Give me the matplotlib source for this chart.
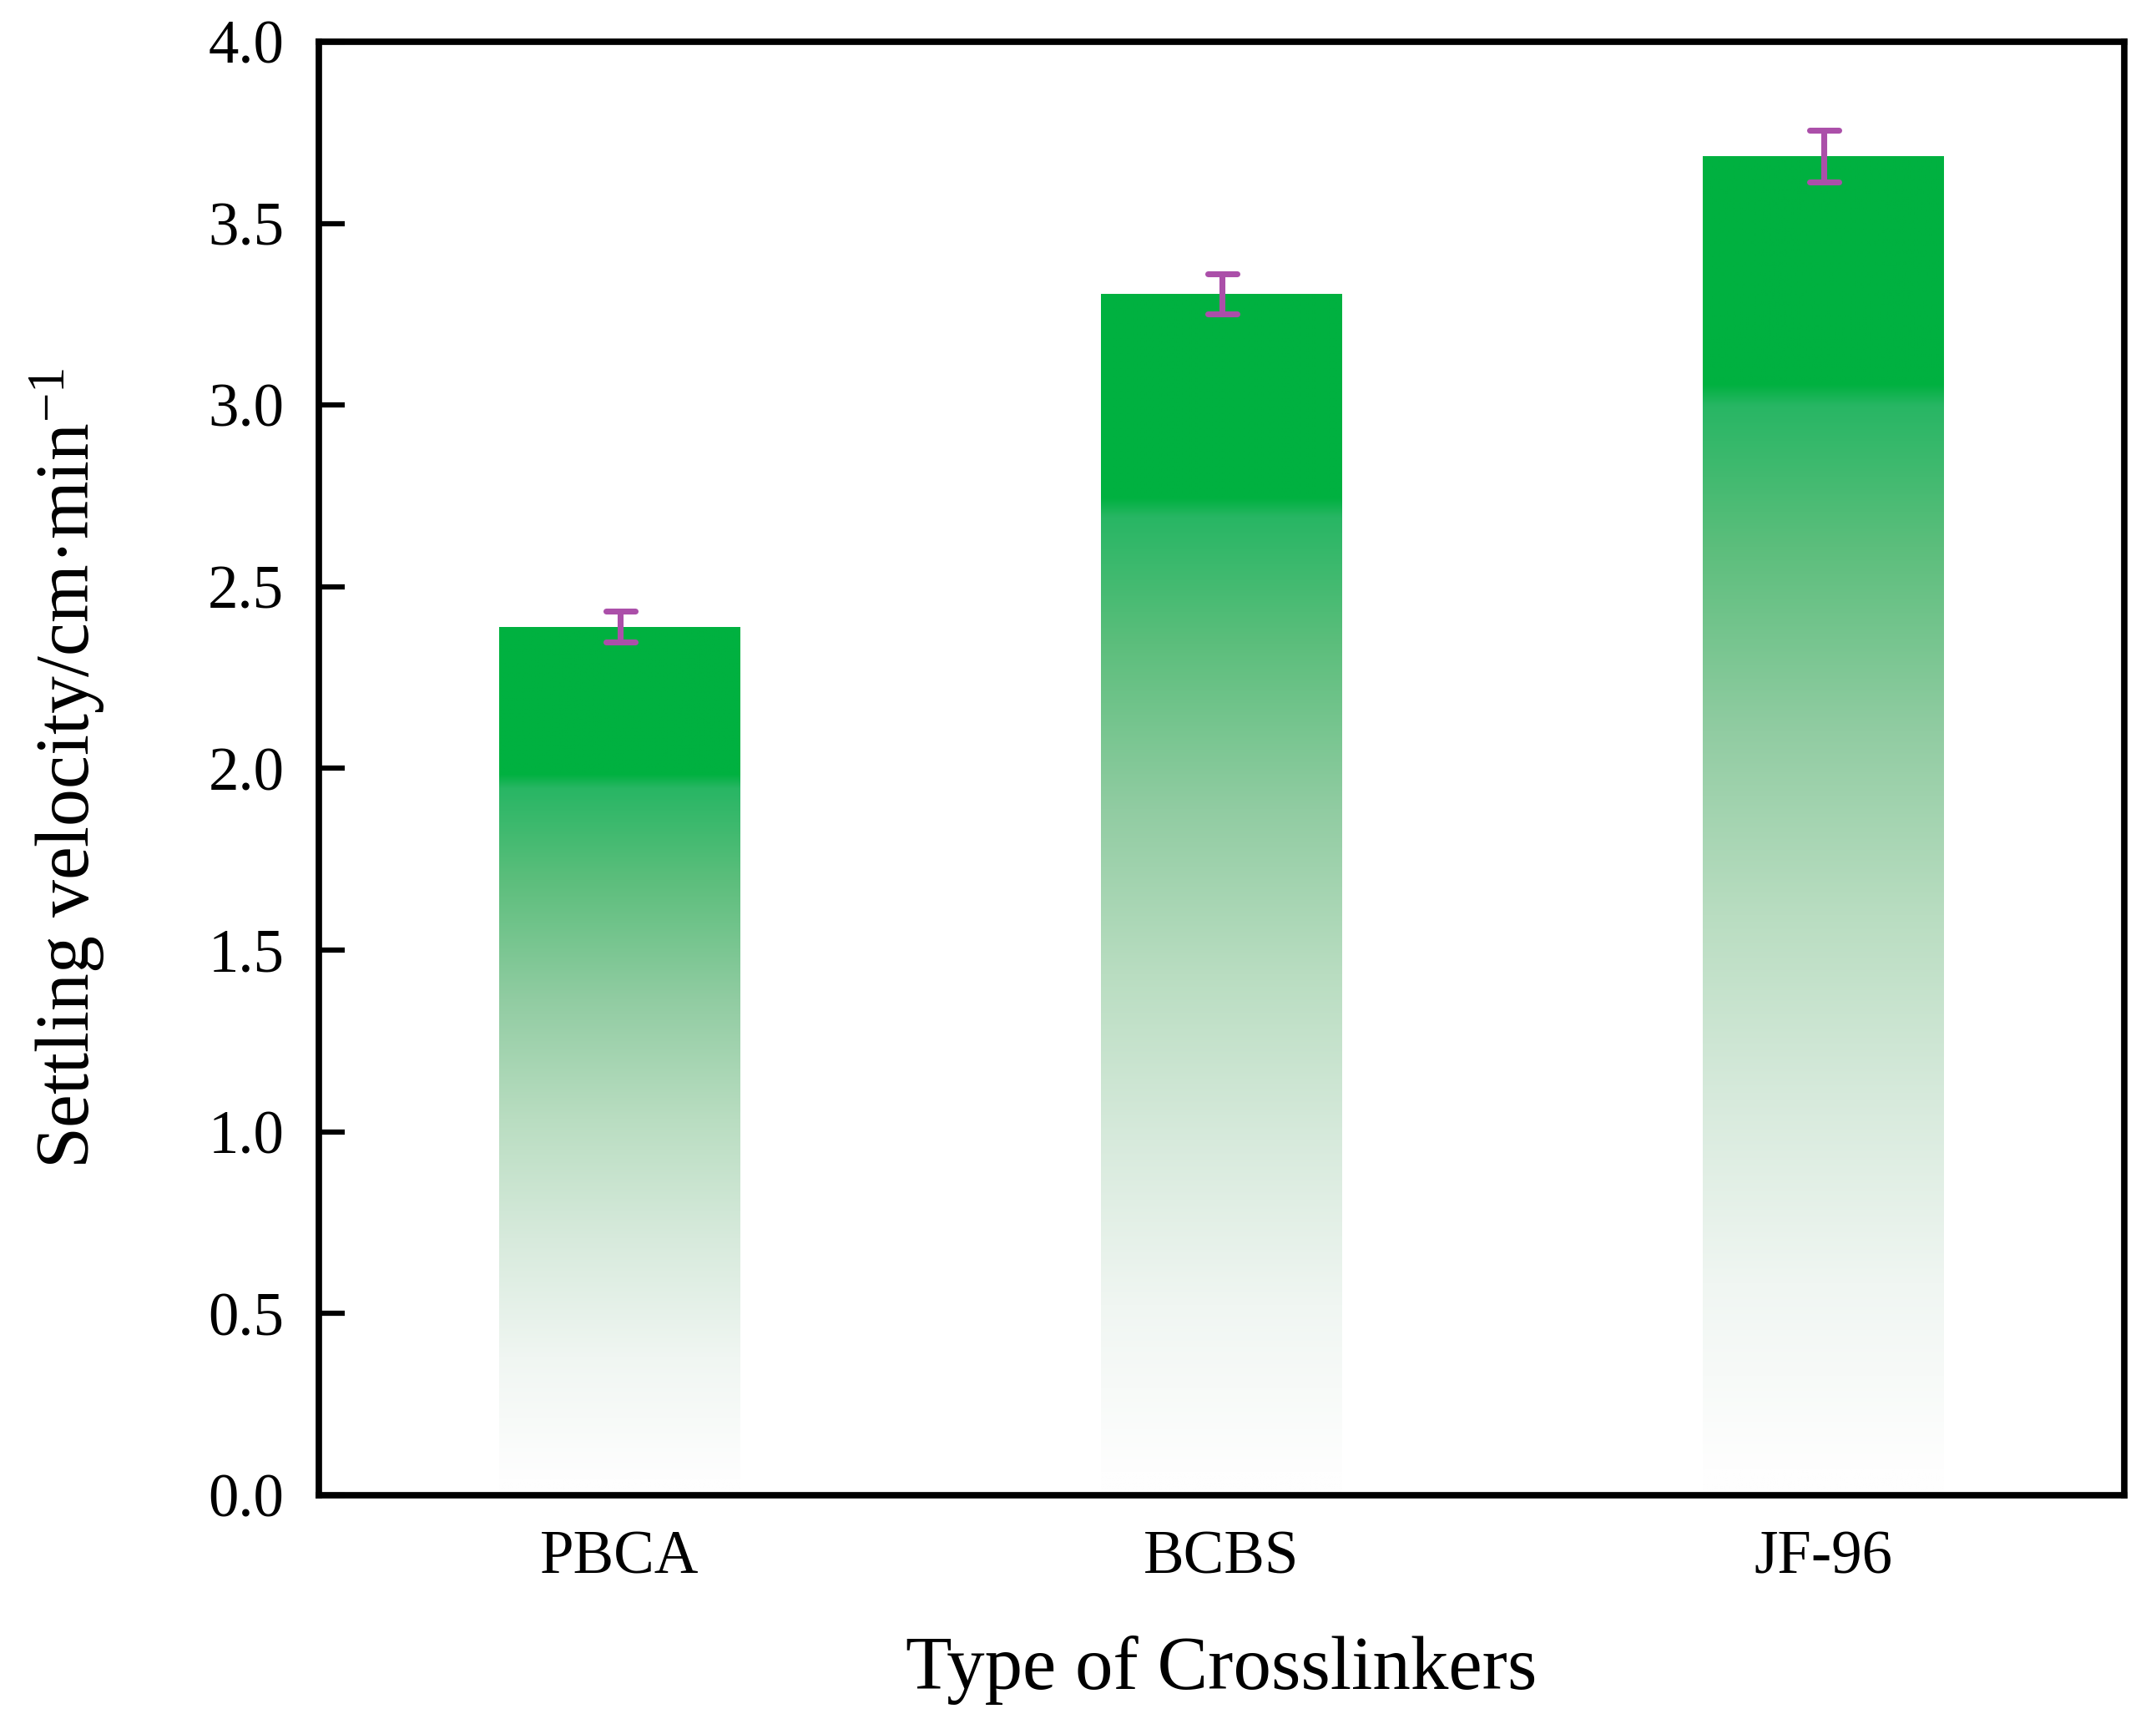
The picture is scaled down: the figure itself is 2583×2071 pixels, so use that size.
import numpy as np
import matplotlib
matplotlib.use("Agg")
import matplotlib.pyplot as plt
from matplotlib.markers import MarkerStyle

# data
crosslinkers = ["PBCA", "BCBS", "JF-96"]
velocity = [2.39, 3.306, 3.685]
velocity_err = [0.043, 0.056, 0.071]

plt.rcParams["font.family"] = ["Liberation Serif", "DejaVu Serif"]
plt.rcParams["mathtext.fontset"] = "custom"
plt.rcParams["mathtext.rm"] = "Liberation Serif"
plt.rcParams["mathtext.it"] = "Liberation Serif:italic"

purple = "#ab4fa9"

fig = plt.figure(figsize=(2583 / 300, 2071 / 300), dpi=300)
ax = fig.add_axes([0.1479, 0.1352, 0.8374, 0.8407])

x = np.arange(len(crosslinkers))
bars = ax.bar(x, velocity, width=0.4, color="none", edgecolor="none", zorder=2)

# vertical gradient: solid green at the top, fading through pale green to white
t_nodes = [0.0, 0.02, 0.15, 0.32, 0.49, 0.66, 0.83, 1.0]
c_nodes = np.array([(0, 177, 64), (40, 182, 100), (92, 190, 124),
                    (145, 204, 162), (185, 221, 193), (215, 234, 220),
                    (240, 246, 242), (254, 254, 254)]) / 255.0
s = np.linspace(0, 1, 800)
t = np.clip((0.83 - s) / (0.83 - 0.02), 0, 1)
rgb = np.stack([np.interp(t, t_nodes, c_nodes[:, k]) for k in range(3)], axis=1)
grad = np.repeat(rgb[:, None, :], 2, axis=1)

for bar in bars:
    x0 = bar.get_x()
    w = bar.get_width()
    h = bar.get_height()
    im = ax.imshow(grad, extent=[x0, x0 + w, 0, h], origin="lower",
                   aspect="auto", interpolation="bilinear", zorder=2)
    im.set_clip_path(bar)

eb = ax.errorbar(x, velocity, yerr=velocity_err, fmt="none", ecolor=purple,
                 elinewidth=1.7, capsize=4.2, capthick=1.7, zorder=3)
for cl in eb[1]:
    cl.set_marker(MarkerStyle("_", capstyle="round"))
    cl.set_markersize(8.4)

ax.set_xlim(-0.5, 2.5)
ax.set_ylim(0, 4.0)
ax.set_yticks(np.arange(0, 4.01, 0.5))
ax.set_yticklabels([f"{v:.1f}" for v in np.arange(0, 4.01, 0.5)])
ax.set_xticks(x)
ax.set_xticklabels(crosslinkers)

for sp in ax.spines.values():
    sp.set_linewidth(1.85)

ax.tick_params(axis="both", direction="in", length=7.5, width=1.5,
               labelsize=17.5, pad=10)
ax.tick_params(axis="x", pad=10)

ax.set_xlabel("Type of Crosslinkers", fontsize=21.8, labelpad=14)
ax.set_ylabel("Settling velocity/cm·min$^{-1}$", fontsize=21.5, labelpad=29)

fig.savefig("out.png", dpi=300)
